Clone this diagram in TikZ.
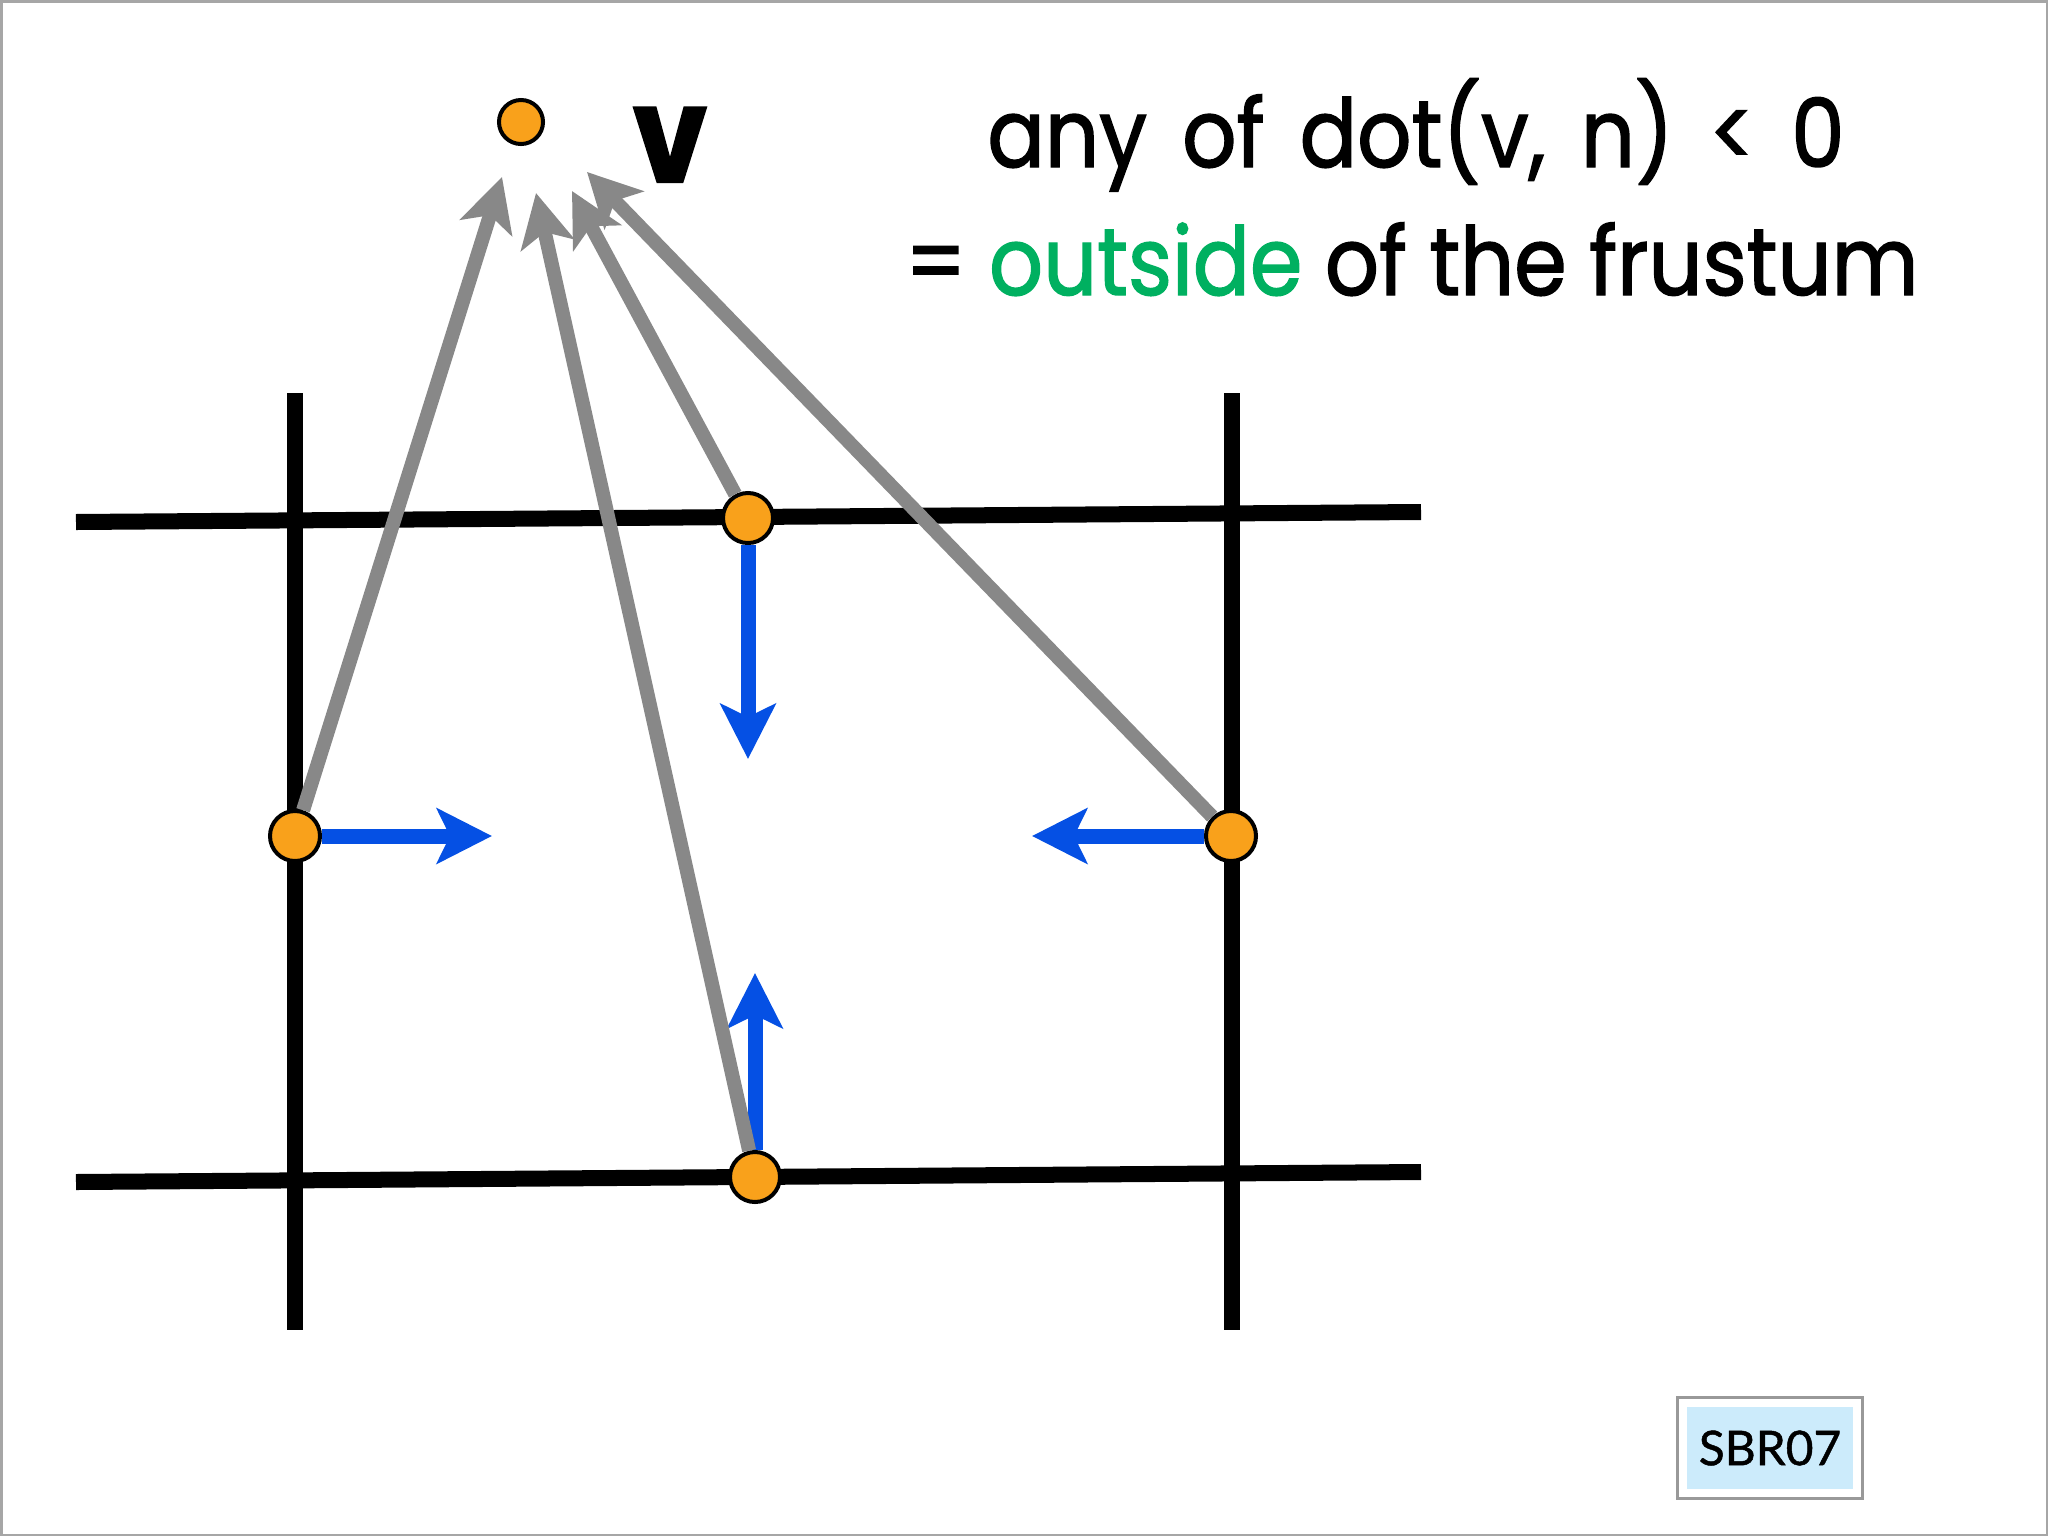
\documentclass[tikz,border=0pt]{standalone}
\usepackage{fontspec}
\usepackage{tikz}
\usetikzlibrary{arrows.meta}
\newfontfamily\futura{Poppins}[FakeStretch=0.89, FakeBold=1.5]
\newfontfamily\futurawide{Poppins}[FakeStretch=0.895, FakeBold=1.5, WordSpace=1.55]
\newfontfamily\tagfont{Lato}[FakeBold=1]
\definecolor{dotorange}{RGB}{249,161,27}
\definecolor{normalblue}{RGB}{5,80,228}
\definecolor{viewgray}{RGB}{136,136,136}
\definecolor{outsidegreen}{RGB}{0,176,96}
\definecolor{tagblue}{RGB}{204,235,251}

\begin{document}
\begin{tikzpicture}[x=0.01cm, y=-0.01cm,
    gridline/.style={line width=0.16cm, black},
    normalarrow/.style={line width=0.15cm, normalblue, -{Stealth[length=0.55cm, width=0.55cm, inset=0.13cm]}},
    viewarrow/.style={line width=0.14cm, viewgray, -{Stealth[length=0.53cm, width=0.54cm, inset=0.13cm]}},
    vdot/.style={circle, draw=black, fill=dotorange, line width=0.04cm, minimum size=0.5cm, inner sep=0pt}]
    \useasboundingbox (0,0) rectangle (2048,1536);
    \draw[gray!70, line width=0.03cm] (1,1) rectangle (2047,1535);

    \draw[gridline] (295,393) -- (295,1330);
    \draw[gridline] (1232,393) -- (1232,1330);
    \draw[gridline] (76,522) -- (1421,512);
    \draw[gridline] (76,1182) -- (1421,1172);

    \node[vdot] (top) at (748,518) {};
    \node[vdot] (left) at (295,836) {};
    \node[vdot] (right) at (1231,836) {};
    \node[vdot] (bottom) at (755,1177) {};
    \node[vdot, minimum size=0.44cm] (v) at (521,122) {};
    \node[anchor=base, font=\futura\bfseries\fontsize{38}{40}\selectfont] (vlabel) at (670,182) {v};

    \coordinate (lefttip) at (492,836);
    \coordinate (righttip) at (1032,836);
    \coordinate (toptip) at (748,759);
    \coordinate (bottomtip) at (755,973);
    \draw[normalarrow] (left) -- (lefttip);
    \draw[normalarrow] (right) -- (righttip);
    \draw[normalarrow] (top) -- (toptip);
    \draw[normalarrow] (bottom) -- (bottomtip);

    \coordinate (fromleft) at (502,177);
    \coordinate (frombottom) at (536,193);
    \coordinate (fromtop) at (572,191);
    \coordinate (fromright) at (587,172);
    \draw[viewarrow] (left) -- (fromleft);
    \draw[viewarrow] (bottom) -- (frombottom);
    \draw[viewarrow] (top) -- (fromtop);
    \draw[viewarrow] (right) -- (fromright);

    \node[anchor=base, font=\futurawide\fontsize{27}{32}\selectfont] (rule) at (1416,167) {any of dot(v, n) < 0};
    \node[anchor=base, font=\futura\fontsize{27}{32}\selectfont] (meaning) at (1412,295) {= \textcolor{outsidegreen}{outside} of the frustum};

    \node[fill=tagblue, minimum width=1.65cm, minimum height=0.81cm, font=\tagfont\fontsize{13.6}{14}\selectfont] (tag) at (1770,1448) {SBR07};
    \node[draw=gray!80, line width=0.03cm, minimum width=1.85cm, minimum height=1.0cm] (tagframe) at (tag) {};
\end{tikzpicture}
\end{document}
